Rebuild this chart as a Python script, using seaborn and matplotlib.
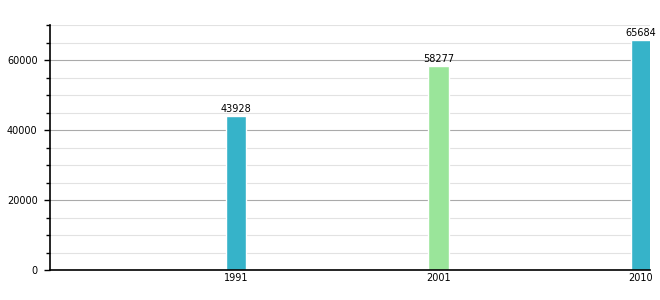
import matplotlib
matplotlib.use("Agg")
import matplotlib.pyplot as plt
import seaborn as sns
import pandas as pd
from matplotlib.ticker import MultipleLocator

years = ["1991", "2001", "2010"]
population = [43928, 58277, 65684]
bar_colors = ["#36b3c9", "#9ae59a", "#36b3c9"]

sns.set_style("white")
plt.rcParams["font.family"] = ["DejaVu Sans"]

df = pd.DataFrame({"year": years, "value": population})

fig = plt.figure(figsize=(6.6, 3.0), dpi=100)
ax = fig.add_axes([50/660, 30/300, 600/660, 245/300])

sns.barplot(data=df, x="year", y="value", hue="year", palette=bar_colors,
            width=0.1, legend=False, ax=ax, saturation=1)

ax.set_ylim(0, 70000)
ax.set_xlim(-0.918, 2.045)
ax.yaxis.set_major_locator(MultipleLocator(20000))
ax.yaxis.set_minor_locator(MultipleLocator(5000))
ax.grid(which="major", axis="y", color="#aaaaaa", linewidth=0.8)
ax.grid(which="minor", axis="y", color="#e2e2e2", linewidth=0.8)
ax.set_axisbelow(True)

for s in ["top", "right"]:
    ax.spines[s].set_visible(False)
for s in ["left", "bottom"]:
    ax.spines[s].set_color("black")
    ax.spines[s].set_linewidth(1.2)

ax.tick_params(axis="y", which="major", length=4, width=1, color="black",
               labelsize=7, pad=5, left=True, labelcolor="black")
ax.tick_params(axis="y", which="minor", length=3, width=1, color="black", left=True)
ax.tick_params(axis="x", length=0, labelsize=7, pad=2, labelcolor="black")
ax.set_xlabel("")
ax.set_ylabel("")

for i, v in enumerate(population):
    ax.text(i, v + 700, str(v), ha="center", va="bottom", fontsize=7, color="black")

fig.savefig("out.png", dpi=100)
